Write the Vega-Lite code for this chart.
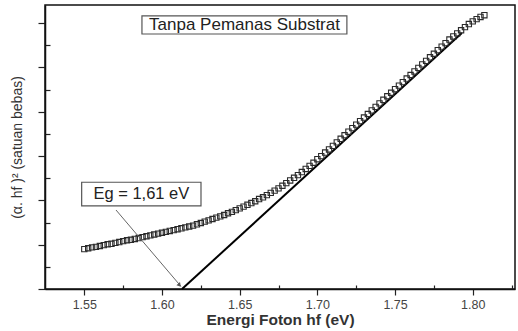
{
  "$schema": "https://vega.github.io/schema/vega-lite/v6.json",
  "width": 470,
  "height": 284,
  "autosize": "none",
  "padding": {"left": 45, "top": 5, "right": 3, "bottom": 42},
  "background": "white",
  "config": {
    "view": {"stroke": "#111", "strokeWidth": 1.5},
    "font": "Liberation Sans",
    "axis": {"domainColor": "#111", "tickColor": "#222", "grid": false, "domainWidth": 1.5, "tickWidth": 1.2}
  },
  "datasets": {
    "points": [
      {"x": 1.5500, "y": 0.90}, {"x": 1.5525, "y": 0.92}, {"x": 1.5550, "y": 0.94}, {"x": 1.5575, "y": 0.95},
      {"x": 1.5600, "y": 0.97}, {"x": 1.5625, "y": 0.99}, {"x": 1.5650, "y": 1.01}, {"x": 1.5675, "y": 1.02},
      {"x": 1.5700, "y": 1.04}, {"x": 1.5725, "y": 1.06}, {"x": 1.5750, "y": 1.08}, {"x": 1.5775, "y": 1.10},
      {"x": 1.5800, "y": 1.11}, {"x": 1.5825, "y": 1.13}, {"x": 1.5850, "y": 1.15}, {"x": 1.5875, "y": 1.17},
      {"x": 1.5900, "y": 1.19}, {"x": 1.5925, "y": 1.21}, {"x": 1.5950, "y": 1.23}, {"x": 1.5975, "y": 1.25},
      {"x": 1.6000, "y": 1.27}, {"x": 1.6025, "y": 1.29}, {"x": 1.6050, "y": 1.31}, {"x": 1.6075, "y": 1.33},
      {"x": 1.6100, "y": 1.35}, {"x": 1.6125, "y": 1.37}, {"x": 1.6150, "y": 1.39}, {"x": 1.6175, "y": 1.41},
      {"x": 1.6200, "y": 1.43}, {"x": 1.6225, "y": 1.46}, {"x": 1.6250, "y": 1.49}, {"x": 1.6275, "y": 1.52},
      {"x": 1.6300, "y": 1.55}, {"x": 1.6325, "y": 1.58}, {"x": 1.6350, "y": 1.61}, {"x": 1.6375, "y": 1.64},
      {"x": 1.6400, "y": 1.67}, {"x": 1.6425, "y": 1.71}, {"x": 1.6450, "y": 1.74}, {"x": 1.6475, "y": 1.78},
      {"x": 1.6500, "y": 1.82}, {"x": 1.6525, "y": 1.86}, {"x": 1.6550, "y": 1.90}, {"x": 1.6575, "y": 1.94},
      {"x": 1.6600, "y": 1.98}, {"x": 1.6625, "y": 2.03}, {"x": 1.6650, "y": 2.07}, {"x": 1.6675, "y": 2.12},
      {"x": 1.6700, "y": 2.17}, {"x": 1.6725, "y": 2.22}, {"x": 1.6750, "y": 2.27}, {"x": 1.6775, "y": 2.33},
      {"x": 1.6800, "y": 2.39}, {"x": 1.6825, "y": 2.45}, {"x": 1.6850, "y": 2.51}, {"x": 1.6875, "y": 2.57},
      {"x": 1.6900, "y": 2.64}, {"x": 1.6925, "y": 2.71}, {"x": 1.6950, "y": 2.78}, {"x": 1.6975, "y": 2.85},
      {"x": 1.7000, "y": 2.93}, {"x": 1.7025, "y": 3.00}, {"x": 1.7050, "y": 3.08}, {"x": 1.7075, "y": 3.15},
      {"x": 1.7100, "y": 3.23}, {"x": 1.7125, "y": 3.31}, {"x": 1.7150, "y": 3.39}, {"x": 1.7175, "y": 3.47},
      {"x": 1.7200, "y": 3.55}, {"x": 1.7225, "y": 3.63}, {"x": 1.7250, "y": 3.71}, {"x": 1.7275, "y": 3.79},
      {"x": 1.7300, "y": 3.87}, {"x": 1.7325, "y": 3.95}, {"x": 1.7350, "y": 4.03}, {"x": 1.7375, "y": 4.11},
      {"x": 1.7400, "y": 4.19}, {"x": 1.7425, "y": 4.27}, {"x": 1.7450, "y": 4.35}, {"x": 1.7475, "y": 4.43},
      {"x": 1.7500, "y": 4.51}, {"x": 1.7525, "y": 4.59}, {"x": 1.7550, "y": 4.67}, {"x": 1.7575, "y": 4.75},
      {"x": 1.7600, "y": 4.83}, {"x": 1.7625, "y": 4.91}, {"x": 1.7650, "y": 4.99}, {"x": 1.7675, "y": 5.07},
      {"x": 1.7700, "y": 5.15}, {"x": 1.7725, "y": 5.23}, {"x": 1.7750, "y": 5.31}, {"x": 1.7775, "y": 5.39},
      {"x": 1.7800, "y": 5.47}, {"x": 1.7825, "y": 5.55}, {"x": 1.7850, "y": 5.63}, {"x": 1.7875, "y": 5.70},
      {"x": 1.7900, "y": 5.77}, {"x": 1.7925, "y": 5.84}, {"x": 1.7950, "y": 5.91}, {"x": 1.7975, "y": 5.98},
      {"x": 1.8000, "y": 6.04}, {"x": 1.8025, "y": 6.09}, {"x": 1.8050, "y": 6.14}, {"x": 1.8075, "y": 6.18}
    ],
    "fit": [{"x": 1.6129, "y": 0}, {"x": 1.793, "y": 5.78}],
    "boxes": [
      {"x": 1.5871, "x2": 1.7190, "y": 6.163, "y2": 5.756},
      {"x": 1.5483, "x2": 1.6251, "y": 2.409, "y2": 1.874}
    ],
    "labels": [
      {"x": 1.6531, "y": 5.959, "label": "Tanpa Pemanas Substrat", "size": "a"},
      {"x": 1.5867, "y": 2.141, "label": "Eg = 1,61 eV", "size": "b"}
    ],
    "arrow": [{"x": 1.5704, "y": 1.783, "x2": 1.6122, "y2": 0.06}],
    "head": [{"x": 1.6110, "y": 0.098}]
  },
  "resolve": {"axis": {"x": "independent", "y": "independent"}},
  "layer": [
    {
      "data": {"name": "fit"},
      "mark": {"type": "line", "color": "#000", "strokeWidth": 2},
      "encoding": {
        "x": {"field": "x", "type": "quantitative", "scale": {"domain": [1.5247, 1.8272], "nice": false, "zero": false},
              "axis": {"values": [1.575, 1.625, 1.675, 1.725, 1.775, 1.825], "tickSize": -4, "labels": false, "domain": false, "title": null, "orient": "bottom"}},
        "y": {"field": "y", "type": "quantitative", "scale": {"domain": [0, 6.41], "nice": false, "zero": false},
              "axis": {"values": [0.5, 1.5, 2.5, 3.5, 4.5, 5.5], "tickSize": -5, "labels": false, "domain": false, "title": null, "orient": "left"}}
      }
    },
    {
      "data": {"name": "points"},
      "mark": {"type": "point", "shape": "square", "filled": false, "size": 28, "stroke": "#2a2a2a", "strokeWidth": 1.1, "opacity": 1},
      "encoding": {
        "x": {"field": "x", "type": "quantitative", "scale": {"domain": [1.5247, 1.8272], "nice": false, "zero": false},
              "axis": {"values": [1.55, 1.60, 1.65, 1.70, 1.75, 1.80], "format": ".2f", "tickSize": 6, "labelPadding": 3,
                       "labelFontSize": 12.5, "labelColor": "#444", "title": "Energi Foton hf (eV)", "titleFontSize": 15.5,
                       "titleFontWeight": "bold", "titleColor": "#333", "titlePadding": 2, "orient": "bottom"}},
        "y": {"field": "y", "type": "quantitative", "scale": {"domain": [0, 6.41], "nice": false, "zero": false},
              "axis": {"values": [0, 1, 2, 3, 4, 5, 6], "tickSize": 7, "labels": false, "title": "(α. hf )² (satuan bebas)",
                       "titleFontSize": 14, "titleFontWeight": "normal", "titleColor": "#333", "titlePadding": 13, "orient": "left"}}
      }
    },
    {
      "data": {"name": "boxes"},
      "mark": {"type": "rect", "fill": "white", "stroke": "#555", "strokeWidth": 1.2},
      "encoding": {
        "x": {"field": "x", "type": "quantitative", "scale": {"domain": [1.5247, 1.8272], "nice": false, "zero": false}, "axis": null},
        "x2": {"field": "x2"},
        "y": {"field": "y", "type": "quantitative", "scale": {"domain": [0, 6.41], "nice": false, "zero": false}, "axis": null},
        "y2": {"field": "y2"}
      }
    },
    {
      "data": {"name": "labels"},
      "mark": {"type": "text", "align": "center", "baseline": "middle", "color": "#222"},
      "encoding": {
        "x": {"field": "x", "type": "quantitative", "scale": {"domain": [1.5247, 1.8272], "nice": false, "zero": false}, "axis": null},
        "y": {"field": "y", "type": "quantitative", "scale": {"domain": [0, 6.41], "nice": false, "zero": false}, "axis": null},
        "text": {"field": "label"},
        "size": {"field": "size", "type": "nominal", "scale": {"domain": ["a", "b"], "range": [17, 16.5]}, "legend": null}
      }
    },
    {
      "data": {"name": "arrow"},
      "mark": {"type": "rule", "color": "#666", "strokeWidth": 1},
      "encoding": {
        "x": {"field": "x", "type": "quantitative", "scale": {"domain": [1.5247, 1.8272], "nice": false, "zero": false}, "axis": null},
        "y": {"field": "y", "type": "quantitative", "scale": {"domain": [0, 6.41], "nice": false, "zero": false}, "axis": null},
        "x2": {"field": "x2"},
        "y2": {"field": "y2"}
      }
    },
    {
      "data": {"name": "head"},
      "mark": {"type": "point", "shape": "triangle", "filled": true, "color": "#555", "size": 22, "angle": 140, "opacity": 1},
      "encoding": {
        "x": {"field": "x", "type": "quantitative", "scale": {"domain": [1.5247, 1.8272], "nice": false, "zero": false}, "axis": null},
        "y": {"field": "y", "type": "quantitative", "scale": {"domain": [0, 6.41], "nice": false, "zero": false}, "axis": null}
      }
    }
  ]
}
